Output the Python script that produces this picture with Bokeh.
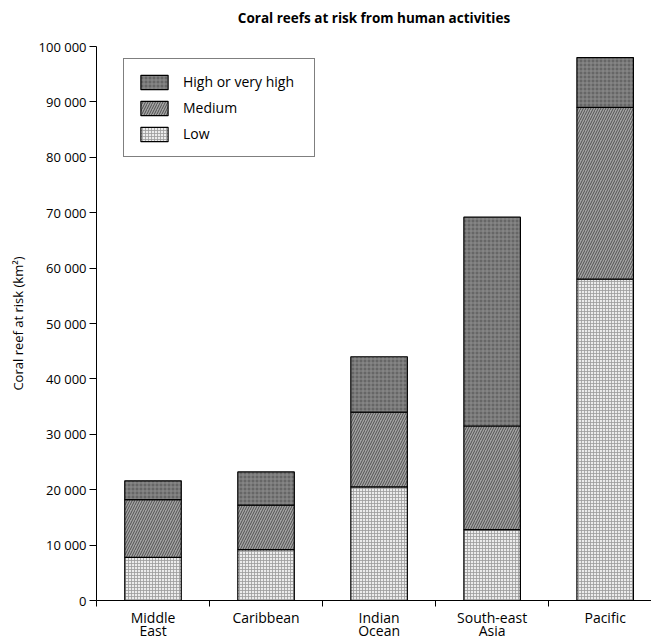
from bokeh.plotting import figure
from bokeh.models import FixedTicker, Legend, LegendItem, ColumnDataSource, Title
from bokeh.embed import file_html
from bokeh.resources import INLINE

regions = ["Middle\nEast", "Caribbean", "Indian\nOcean", "South-east\nAsia", "Pacific"]
low = [7800, 9200, 20500, 12800, 58000]
medium = [10400, 8000, 13500, 18700, 31000]
high = [3400, 6000, 10000, 37700, 9000]
series_names = ["High or very high", "Medium", "Low"]
y_ticks = [0, 10000, 20000, 30000, 40000, 50000, 60000, 70000, 80000, 90000, 100000]
y_tick_labels = ["0", "10 000", "20 000", "30 000", "40 000", "50 000", "60 000",
                 "70 000", "80 000", "90 000", "100 000"]
chart_title = "Coral reefs at risk from human activities"

FONT = "Open Sans"
xs = list(range(len(regions)))
b1 = [0] * len(xs)
t1 = [l for l in low]
t2 = [a + m for a, m in zip(t1, medium)]
t3 = [a + h for a, h in zip(t2, high)]
src = ColumnDataSource(dict(x=xs, b1=b1, t1=t1, t2=t2, t3=t3))

p = figure(width=651, height=643, output_backend="svg", toolbar_location=None,
           x_range=(-0.5, 4.41), y_range=(0, 100000),
           min_border_left=96, min_border_right=0, min_border_top=46, min_border_bottom=30,
           title=chart_title)
p.outline_line_color = None
p.grid.grid_line_color = None
p.background_fill_color = "white"

p.title.align = "center"
p.title.text_font = FONT
p.title.text_font_size = "13.5px"
p.title.text_font_style = "bold"
p.title.text_color = "black"
p.title.standoff = 10
# blank spacer between the title and the plot frame
p.add_layout(Title(text=" ", text_font_size="1px", standoff=12), "above")

w = 0.5
r_low = p.vbar(x="x", bottom="b1", top="t1", width=w, source=src,
               fill_color="#ececec", hatch_pattern="+", hatch_color="#9c9c9c",
               hatch_scale=3, hatch_weight=0.8,
               line_color="black", line_width=1.2)
r_med = p.vbar(x="x", bottom="t1", top="t2", width=w, source=src,
               fill_color="#a4a4a4", hatch_pattern="/", hatch_color="#505050",
               hatch_scale=5, hatch_weight=1,
               line_color="black", line_width=1.2)
r_high = p.vbar(x="x", bottom="t2", top="t3", width=w, source=src,
                fill_color="#666666", hatch_pattern="+", hatch_color="#8e8e8e",
                hatch_scale=4, hatch_weight=1,
                line_color="black", line_width=1.2)

legend = Legend(items=[LegendItem(label=series_names[0], renderers=[r_high]),
                       LegendItem(label=series_names[1], renderers=[r_med]),
                       LegendItem(label=series_names[2], renderers=[r_low])],
                location=(27, 443), padding=13, spacing=7,
                glyph_width=34, glyph_height=18, label_standoff=12, label_width=118,
                label_text_font=FONT, label_text_font_size="14px",
                label_text_color="black",
                border_line_color="black", border_line_width=1,
                background_fill_alpha=1, margin=0)
p.add_layout(legend)

# x axis
p.xaxis.ticker = FixedTicker(ticks=xs, minor_ticks=[-0.5, 0.5, 1.5, 2.5, 3.5])
p.xaxis.major_label_overrides = {i: r for i, r in zip(xs, regions)}
p.xaxis.major_tick_line_color = None
p.xaxis.minor_tick_line_color = "black"
p.xaxis.minor_tick_out = 6
p.xaxis.minor_tick_in = 0
p.xaxis.major_label_standoff = 1
p.xaxis.major_label_text_font = FONT
p.xaxis.major_label_text_font_size = "14px"
p.xaxis.major_label_text_color = "black"
p.xaxis.major_label_text_line_height = 0.72
p.xaxis.axis_line_color = "black"

# y axis
p.yaxis.ticker = FixedTicker(ticks=y_ticks)
p.yaxis.major_label_overrides = {v: s for v, s in zip(y_ticks, y_tick_labels)}
p.yaxis.minor_tick_line_color = None
p.yaxis.major_tick_out = 7
p.yaxis.major_tick_in = 0
p.yaxis.major_label_standoff = 3
p.yaxis.major_label_text_font = FONT
p.yaxis.major_label_text_font_size = "13px"
p.yaxis.major_label_text_color = "black"
p.yaxis.axis_label = "Coral reef at risk (km²)"
p.yaxis.axis_label_text_font = FONT
p.yaxis.axis_label_text_font_size = "13px"
p.yaxis.axis_label_text_font_style = "normal"
p.yaxis.axis_label_text_color = "black"
p.yaxis.axis_label_standoff = 9
p.yaxis.axis_line_color = "black"

open("out.html", "w").write(file_html(p, INLINE))
